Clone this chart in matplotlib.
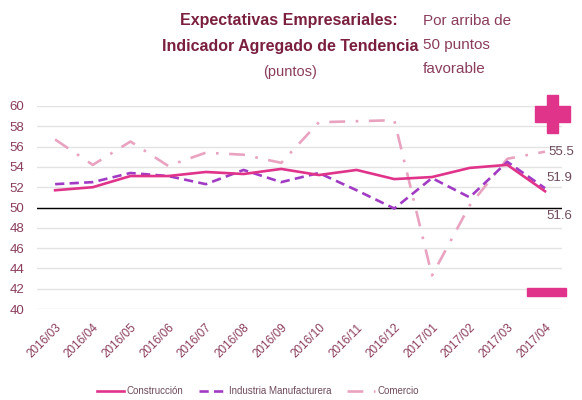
import numpy as np
import matplotlib
matplotlib.use("Agg")
import matplotlib.pyplot as plt
from matplotlib.patches import Rectangle

plt.rcParams["font.family"] = ["Liberation Sans", "DejaVu Sans"]

MAROON = "#7A1F3D"
MAUVE = "#8A3D5C"
LABEL = "#6E4A5C"

months = ["2016/03", "2016/04", "2016/05", "2016/06", "2016/07", "2016/08",
          "2016/09", "2016/10", "2016/11", "2016/12", "2017/01", "2017/02",
          "2017/03", "2017/04"]
construccion = [51.7, 52.0, 53.1, 53.1, 53.5, 53.3, 53.8, 53.2, 53.7, 52.8,
                53.0, 53.9, 54.2, 51.6]
industria = [52.3, 52.5, 53.4, 53.1, 52.3, 53.7, 52.5, 53.4, 51.7, 49.9,
             52.9, 51.0, 54.5, 51.9]
comercio = [56.7, 54.2, 56.5, 54.1, 55.4, 55.2, 54.4, 58.4, 58.5, 58.6,
            43.3, 50.2, 54.8, 55.5]
yticks = list(range(40, 61, 2))

x = np.arange(len(months))

fig = plt.figure(figsize=(5.82, 4.0), dpi=100)
ax = fig.add_axes([0.0636, 0.2275, 0.902, 0.5075])

for yv in yticks:
    ax.axhline(yv, color="#E3E3E3", lw=1.0, zorder=0)
ax.axhline(50, color="black", lw=1.0, zorder=1)

ax.plot(x, construccion, color="#E0338A", lw=1.9, label="Construcción",
        zorder=4)
ax.plot(x, industria, color="#A13BC4", lw=1.9, ls=(0, (3.5, 2)),
        label="Industria Manufacturera", zorder=3)
ax.plot(x, comercio, color="#E9A3C0", lw=1.9, ls=(0, (6, 4, 1, 4)),
        label="Comercio", zorder=2)

# end-of-series labels
ax.annotate(f"{comercio[-1]:.1f}", xy=(x[-1], comercio[-1]),
            xytext=(3, 0), textcoords="offset pixels", fontsize=9.5,
            color=LABEL, va="center", ha="left", annotation_clip=False)
ax.annotate(f"{industria[-1]:.1f}", xy=(x[-1], industria[-1]),
            xytext=(1, 10), textcoords="offset pixels", fontsize=9.5,
            color=LABEL, va="center", ha="left", annotation_clip=False)
ax.annotate(f"{construccion[-1]:.1f}", xy=(x[-1], construccion[-1]),
            xytext=(1, -25), textcoords="offset pixels", fontsize=9.5,
            color=LABEL, va="center", ha="left", annotation_clip=False)

ax.set_xlim(-0.48, 13.45)
ax.set_ylim(40, 60)
ax.set_yticks(yticks)
ax.set_yticklabels([str(v) for v in yticks], fontsize=9.5, color=MAUVE)
ax.set_xticks(x)
ax.set_xticklabels(months, rotation=45, ha="right", rotation_mode="anchor",
                   fontsize=8.5, color=MAUVE)
ax.tick_params(axis="both", length=0)
ax.tick_params(axis="y", pad=9)
ax.tick_params(axis="x", pad=9)
for s in ax.spines.values():
    s.set_visible(False)

# plus / minus signs (figure pixels -> fraction)
W, H = 582, 400
def rect(x0, y0, x1, y1):
    fig.patches.append(Rectangle((x0 / W, 1 - y1 / H), (x1 - x0) / W,
                                 (y1 - y0) / H, transform=fig.transFigure,
                                 color="#E0338A", zorder=5))
rect(547, 95, 558, 133)
rect(535, 106, 570, 122)
rect(527, 288, 566, 296)

fig.text(289 / W, 1 - 20 / H, "Expectativas Empresariales:", ha="center",
         va="center", fontsize=11.5, fontweight="bold", color=MAROON)
fig.text(290 / W, 1 - 47 / H, "Indicador Agregado de Tendencia",
         ha="center", va="center", fontsize=11.5, fontweight="bold",
         color=MAROON)
fig.text(290 / W, 1 - 72 / H, "(puntos)", ha="center", va="center",
         fontsize=10.5, color=MAUVE)
for i, line in enumerate(["Por arriba de", "50 puntos", "favorable"]):
    fig.text(423 / W, 1 - (21 + 24 * i) / H, line, ha="left", va="center",
             fontsize=11, color=MAUVE)

fig.legend(loc="center", bbox_to_anchor=(258 / W, 1 - 391 / H), ncol=3,
           frameon=False, fontsize=7, handlelength=2.8, columnspacing=1.6,
           handletextpad=0.3, labelcolor=LABEL)

fig.savefig("out.png", dpi=100)
